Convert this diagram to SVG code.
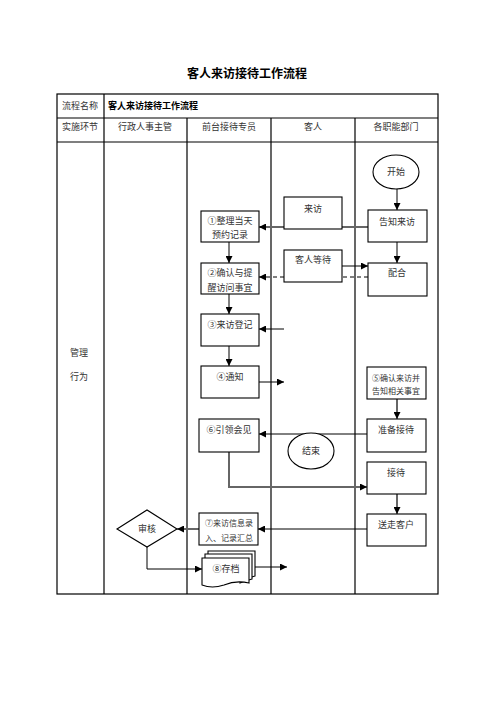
<svg xmlns="http://www.w3.org/2000/svg" width="496" height="702" viewBox="0 0 496 702">
<style>
text{font-family:"Noto Sans CJK SC","Noto Sans",sans-serif;fill:#333;font-size:9px;text-anchor:middle}
.title{font-size:12px;font-weight:bold;fill:#000}
.bold{font-weight:bold;fill:#000;text-anchor:start}
.sm{font-size:8px}
.grid{stroke:#000;stroke-width:1.2;fill:none}
.box{fill:#fff;stroke:#000;stroke-width:1.1}
.ln{stroke:#000;stroke-width:1;fill:none}
.gl{stroke:#666;stroke-width:2;fill:none}
.dash{stroke:#000;stroke-width:1;fill:none;stroke-dasharray:4 3}
</style>
<defs>
<marker id="ah" viewBox="0 0 10 10" refX="10" refY="5" markerWidth="7" markerHeight="7" markerUnits="userSpaceOnUse" orient="auto">
<path d="M0,0 L10,5 L0,10 z" fill="#000"/>
</marker>
</defs>
<rect width="496" height="702" fill="#fff"/>
<text class="title" x="247" y="78">客人来访接待工作流程</text>
<g id="table">
<rect class="grid" x="57" y="94" width="381" height="500"/>
<line class="grid" x1="57" y1="118" x2="438" y2="118"/>
<line class="grid" x1="57" y1="142" x2="438" y2="142"/>
<line class="grid" x1="104" y1="94" x2="104" y2="594"/>
<line class="grid" x1="187" y1="118" x2="187" y2="594"/>
<line class="grid" x1="271" y1="118" x2="271" y2="594"/>
<line class="grid" x1="355" y1="118" x2="355" y2="594"/>
<text x="80" y="109">流程名称</text>
<text class="bold" x="108" y="109">客人来访接待工作流程</text>
<text x="80" y="130">实施环节</text>
<text x="145" y="130">行政人事主管</text>
<text x="229" y="130">前台接待专员</text>
<text x="313" y="130">客人</text>
<text x="396" y="130">各职能部门</text>
<text x="79" y="356">管理</text>
<text x="79" y="380">行为</text>
</g>
<g id="connectors">
<line class="ln" x1="397" y1="189" x2="397" y2="210" marker-end="url(#ah)"/>
<line class="gl" x1="368" y1="227" x2="260" y2="227"/>
<line class="ln" x1="266" y1="227" x2="259" y2="227" marker-end="url(#ah)"/>
<line class="ln" x1="229" y1="242" x2="229" y2="263" marker-end="url(#ah)"/>
<line class="ln" x1="342" y1="266" x2="368" y2="266" marker-end="url(#ah)"/>
<line class="ln" x1="397" y1="242" x2="397" y2="263" marker-end="url(#ah)"/>
<line class="dash" x1="368" y1="277" x2="259" y2="277" marker-end="url(#ah)"/>
<line class="ln" x1="229" y1="294" x2="229" y2="314" marker-end="url(#ah)"/>
<line class="ln" x1="284" y1="329" x2="259" y2="329" marker-end="url(#ah)"/>
<line class="ln" x1="229" y1="346" x2="229" y2="366" marker-end="url(#ah)"/>
<line class="ln" x1="259" y1="382" x2="284" y2="382" marker-end="url(#ah)"/>
<line class="gl" x1="397" y1="399" x2="397" y2="414"/>
<line class="ln" x1="397" y1="412" x2="397" y2="419" marker-end="url(#ah)"/>
<line class="ln" x1="367" y1="434" x2="259" y2="434" marker-end="url(#ah)"/>
<path class="gl" d="M229,452 V487 H362"/>
<line class="ln" x1="360" y1="487" x2="367" y2="487" marker-end="url(#ah)"/>
<line class="gl" x1="397" y1="494" x2="397" y2="509"/>
<line class="ln" x1="397" y1="507" x2="397" y2="514" marker-end="url(#ah)"/>
<line class="ln" x1="367" y1="529" x2="258" y2="529" marker-end="url(#ah)"/>
<line class="gl" x1="199" y1="529" x2="182" y2="529"/>
<line class="ln" x1="184" y1="529" x2="177" y2="529" marker-end="url(#ah)"/>
<path class="ln" d="M147,547 V569 H202" marker-end="url(#ah)"/>
<line class="ln" x1="255" y1="567" x2="287" y2="567" marker-end="url(#ah)"/>
</g>
<g id="start"><ellipse class="box" cx="396" cy="172" rx="23" ry="17"/><text x="396" y="175">开始</text></g>
<g id="notify-visit"><rect class="box" x="368" y="210" width="59" height="32"/><text x="397" y="225">告知来访</text></g>
<g id="visit"><rect class="box" x="284" y="197" width="58" height="32"/><text x="313" y="212">来访</text></g>
<g id="step1"><rect class="box" x="201" y="211" width="58" height="31"/><text x="230" y="224">①整理当天</text><text x="230" y="238">预约记录</text></g>
<g id="step2"><rect class="box" x="201" y="263" width="58" height="31"/><text x="230" y="276">②确认与提</text><text x="230" y="291">醒访问事宜</text></g>
<g id="guest-wait"><rect class="box" x="284" y="250" width="58" height="32"/><text x="313" y="263">客人等待</text></g>
<g id="cooperate"><rect class="box" x="368" y="263" width="59" height="33"/><text x="397" y="276">配合</text></g>
<g id="step3"><rect class="box" x="201" y="314" width="58" height="32"/><text x="230" y="328">③来访登记</text></g>
<g id="step4"><rect class="box" x="201" y="366" width="58" height="32"/><text x="230" y="380">④通知</text></g>
<g id="step5"><rect class="box" x="367" y="367" width="59" height="32"/><text class="sm" x="396" y="381">⑤确认来访并</text><text class="sm" x="396" y="394">告知相关事宜</text></g>
<g id="prepare"><rect class="box" x="367" y="419" width="59" height="33"/><text x="396" y="433">准备接待</text></g>
<g id="step6"><rect class="box" x="199" y="419" width="60" height="33"/><text x="229" y="433">⑥引领会见</text></g>
<g id="end"><ellipse class="box" cx="311" cy="451" rx="23" ry="18"/><text x="311" y="454">结束</text></g>
<g id="receive"><rect class="box" x="367" y="462" width="59" height="32"/><text x="396" y="476">接待</text></g>
<g id="see-off"><rect class="box" x="367" y="514" width="59" height="32"/><text x="396" y="528">送走客户</text></g>
<g id="step7"><rect class="box" x="199" y="513" width="59" height="32"/><text class="sm" x="229" y="526">⑦来访信息录</text><text class="sm" x="229" y="541">入、记录汇总</text></g>
<g id="review"><polygon class="box" points="117,529 147,510 177,529 147,547"/><text x="147" y="532">审核</text></g>
<g id="step8">
<path class="box" d="M208,551 H255 V576 Q248,578 243,580 V558 H208 Z"/>
<path class="box" d="M205,554 H252 V579 Q245,581 240,583 V561 H205 Z"/>
<path class="box" d="M202,558 H249 V583 Q236,580 224,585 Q212,589 202,585 Z"/>
<text x="226" y="572">⑧存档</text>
</g>
</svg>
